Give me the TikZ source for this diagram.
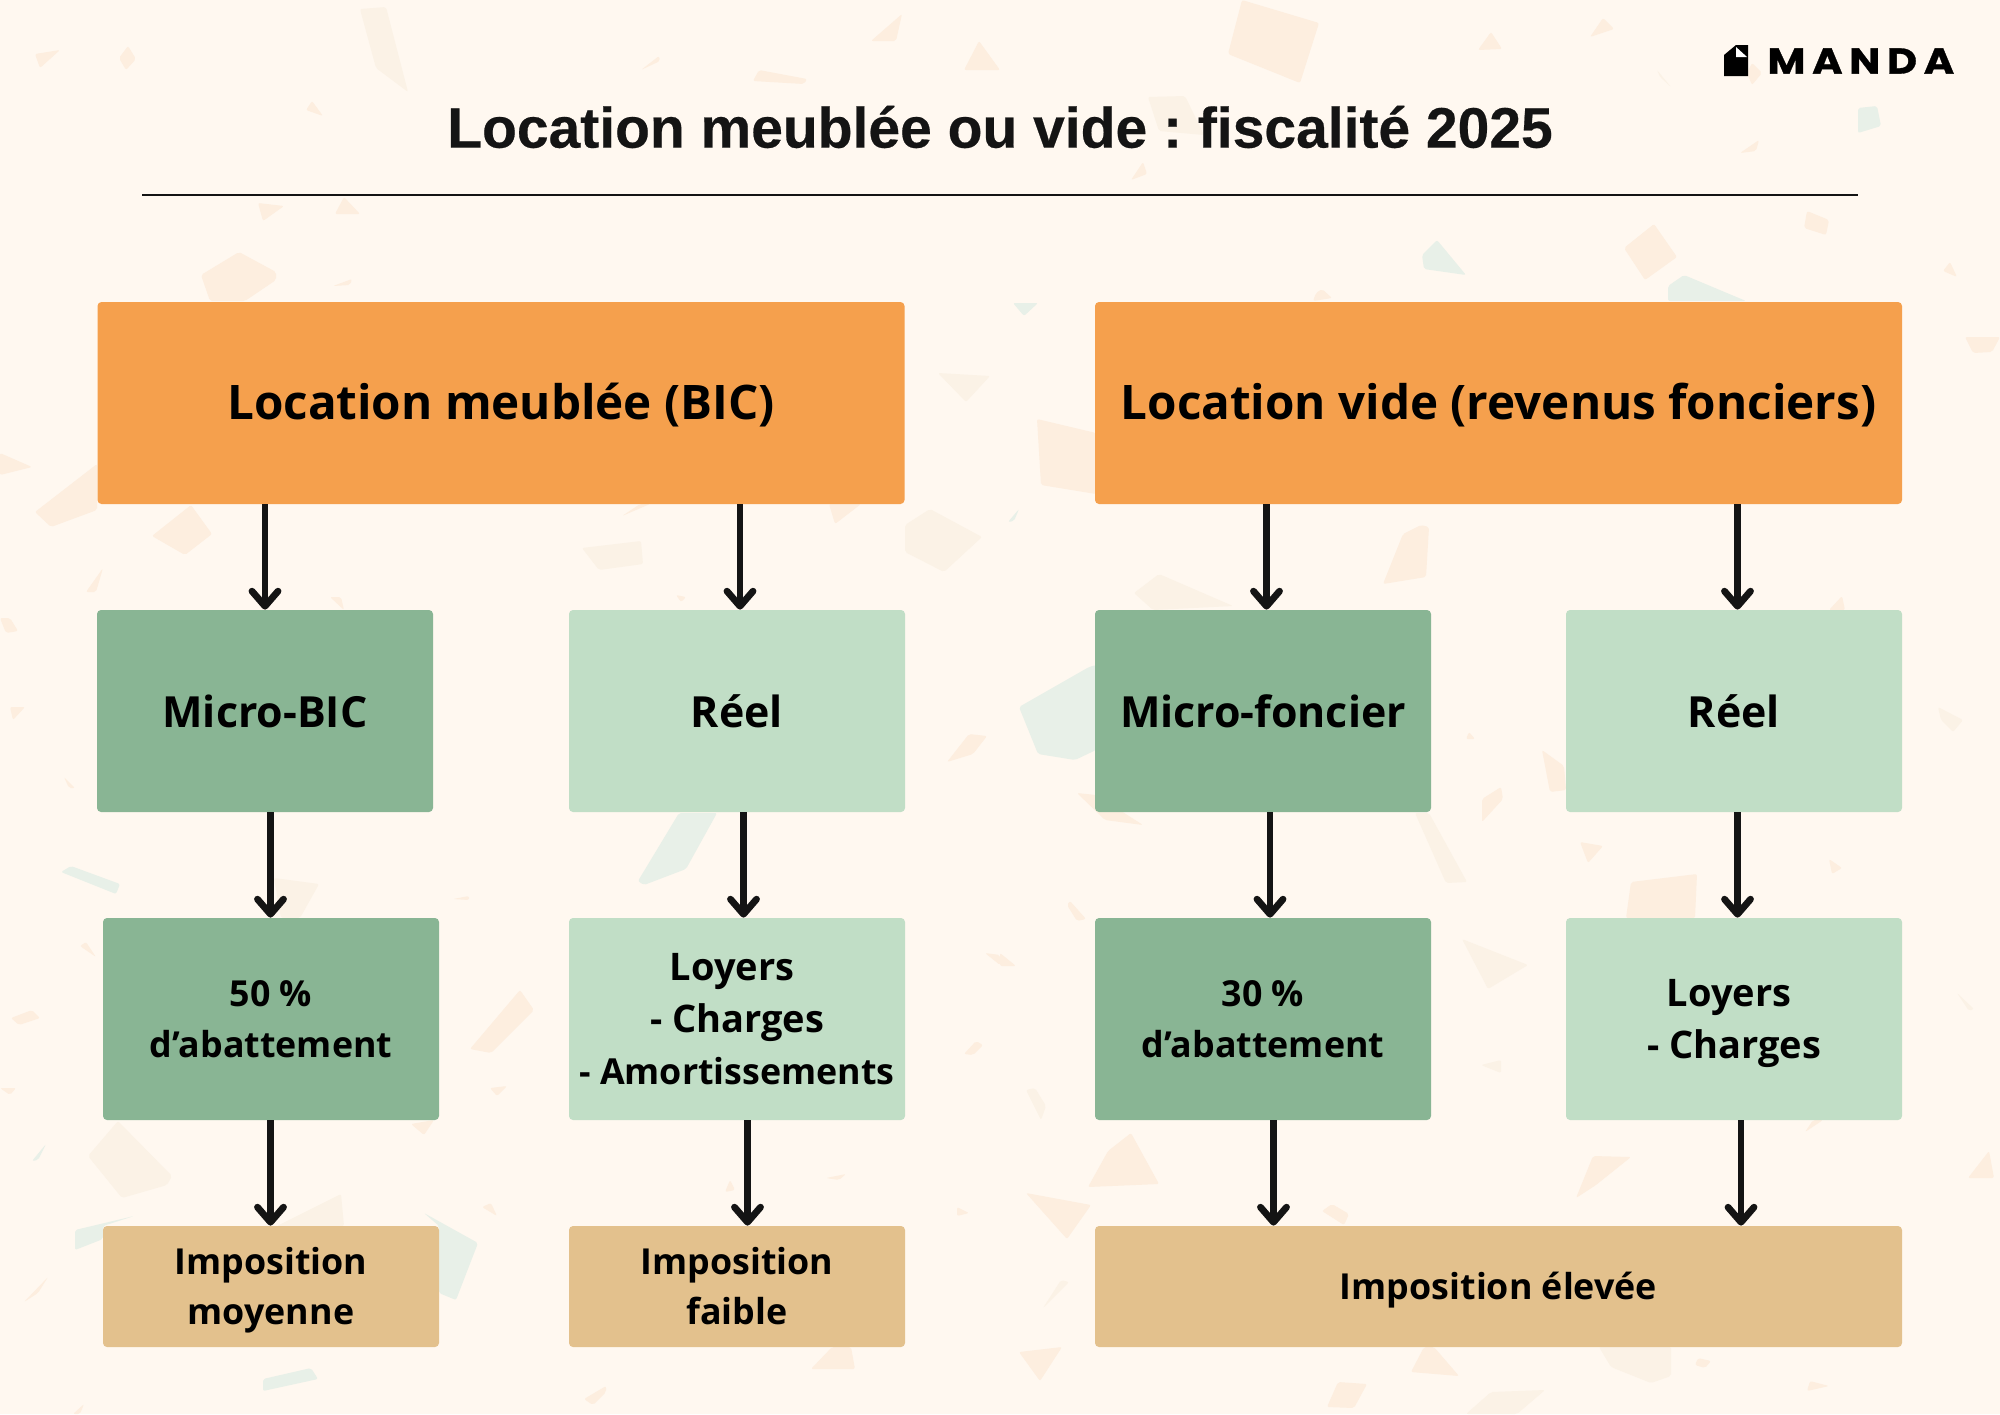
\documentclass[tikz,border=0pt]{standalone}
\usepackage{fontspec}
\setmainfont{Open Sans}
\newfontfamily\titlefont[BoldFeatures={FakeBold=0.4}]{Liberation Sans}
\newfontfamily\logofont[LetterSpace=16,BoldFeatures={FakeBold=0.8}]{Poppins}
\usetikzlibrary{arrows.meta}
\definecolor{fond}{HTML}{FFF8F0}
\definecolor{eclatpeche}{HTML}{FDEEDF}
\definecolor{eclatbeige}{HTML}{FBF2E6}
\definecolor{eclatvert}{HTML}{E8F0E8}
\definecolor{orangebox}{HTML}{F5A04D}
\definecolor{vertfonce}{HTML}{89B594}
\definecolor{vertclair}{HTML}{C1DEC6}
\definecolor{sable}{HTML}{E3C18D}
\definecolor{encre}{HTML}{141414}
\tikzset{
  boite/.style={rectangle, rounded corners=2pt, inner sep=0pt, align=center, text=black, font=\bfseries},
  entete/.style={boite, fill=orangebox, minimum width=403.5pt, minimum height=101pt, text depth=1.8pt, font=\bfseries\fontsize{23.8}{28}\selectfont},
  regime/.style={boite, minimum width=168pt, minimum height=101pt, font=\bfseries\fontsize{21.45}{26}\selectfont},
  calcul/.style={boite, minimum width=168pt, minimum height=101pt, text depth=0pt, font=\bfseries\fontsize{17.9}{25.8}\selectfont},
  loyers/.style={calcul, font=\bfseries\fontsize{19}{25.8}\selectfont},
  impot/.style={boite, fill=sable, minimum height=60.5pt, text depth=0.6pt, font=\bfseries\fontsize{17.9}{25}\selectfont},
  fleche/.style={draw=encre, line width=3.4pt, -{Straight Barb[length=7.5pt,width=13pt,round]}}
}
\begin{document}
\frenchspacing
\begin{tikzpicture}[x=0.5pt, y=-0.5pt]
\useasboundingbox (0,0) rectangle (2000,1414);
\fill[fond] (0,0) rectangle (2000,1414);
% eclats du fond
\fill[eclatpeche, rounded corners=1pt]
  (35,54) -- (60,50) -- (40,68) -- cycle (128,46) -- (136,59) -- (126,70) -- (119,58) -- cycle
  (902,14) -- (896,41) -- (871,41) -- cycle (753,81) -- (759,70) -- (807,79) -- (804,84) -- cycle
  (979,41) -- (1000,70) -- (964,70) -- cycle (659,56) -- (660,61) -- (641,70) -- cycle
  (312,101) -- (323,116) -- (306,110) -- cycle (258,203) -- (284,206) -- (263,221) -- cycle
  (344,197) -- (360,214) -- (335,214) -- cycle (239,252) -- (276,272) -- (276,280) -- (245,301) -- (210,301) -- (201,275) -- cycle
  (333,286) -- (352,279) -- (350,285) -- cycle (0,453) -- (32,467) -- (0,475) -- cycle
  (97,464) -- (35,512) -- (51,527) -- (97,510) -- cycle (191,505) -- (212,534) -- (185,555) -- (152,536) -- cycle
  (103,568) -- (86,592) -- (96,592) -- cycle (330,597) -- (341,597) -- (344,610) -- cycle
  (0,618) -- (10,618) -- (18,631) -- (6,633) -- cycle (829,504) -- (861,504) -- (835,524) -- cycle
  (622,516) -- (650,504) -- (640,504) -- cycle (676,595) -- (686,597) -- (681,602) -- cycle
  (1242,0) -- (1319,23) -- (1300,83) -- (1228,54) -- cycle (1603,18) -- (1614,29) -- (1590,37) -- cycle
  (1491,32) -- (1502,49) -- (1478,50) -- cycle (1747,73) -- (1752,63) -- (1762,73) -- (1752,85) -- cycle
  (1759,140) -- (1740,153) -- (1756,151) -- cycle (1143,162) -- (1131,180) -- (1147,174) -- cycle
  (1807,211) -- (1829,220) -- (1826,235) -- (1804,228) -- cycle (1654,224) -- (1677,257) -- (1645,280) -- (1624,248) -- cycle
  (1322,289) -- (1332,298) -- (1313,301) -- (1316,293) -- cycle (1037,419) -- (1096,433) -- (1096,494) -- (1041,485) -- cycle
  (1965,337) -- (2000,337) -- (1992,352) -- (1973,353) -- cycle (1943,271) -- (1950,262) -- (1957,277) -- cycle
  (1421,525) -- (1429,527) -- (1426,577) -- (1383,584) -- (1403,534) -- cycle (1842,596) -- (1829,610) -- (1845,610) -- cycle
  (10,707) -- (25,707) -- (13,720) -- cycle (64,777) -- (75,788) -- (69,788) -- cycle
  (969,734) -- (987,736) -- (973,754) -- (947,762) -- cycle (453,899) -- (469,896) -- (469,900) -- cycle
  (80,946) -- (86,942) -- (96,957) -- cycle (11,1018) -- (32,1010) -- (40,1018) -- (19,1025) -- cycle
  (520,990) -- (534,1010) -- (491,1053) -- (470,1049) -- cycle (976,1041) -- (983,1045) -- (973,1055) -- (964,1054) -- cycle
  (985,953) -- (1000,955) -- (1000,965) -- cycle (0,1088) -- (16,1088) -- (10,1095) -- cycle
  (490,1088) -- (507,1086) -- (497,1096) -- cycle (411,1124) -- (434,1120) -- (424,1135) -- cycle
  (730,1180) -- (735,1190) -- (725,1192) -- cycle (826,1178) -- (846,1174) -- (839,1180) -- cycle
  (491,1203) -- (497,1216) -- (482,1207) -- cycle (957,1207) -- (969,1213) -- (957,1216) -- cycle
  (48,1277) -- (38,1293) -- (24,1302) -- cycle (851,1347) -- (855,1369) -- (811,1369) -- (832,1347) -- cycle
  (606,1386) -- (584,1399) -- (593,1405) -- (606,1392) -- cycle (84,1404) -- (73,1414) -- (80,1414) -- cycle
  (1077,793) -- (1096,795) -- (1143,825) -- (1105,820) -- cycle (1542,750) -- (1564,766) -- (1566,790) -- (1550,792) -- cycle
  (1501,787) -- (1482,799) -- (1482,822) -- (1503,799) -- cycle (1580,842) -- (1603,846) -- (1588,863) -- cycle
  (1829,859) -- (1842,868) -- (1832,874) -- cycle (1631,882) -- (1697,874) -- (1695,918) -- (1626,918) -- cycle
  (1469,732) -- (1475,739) -- (1466,739) -- cycle (1070,901) -- (1086,919) -- (1077,921) -- (1067,905) -- cycle
  (1000,953) -- (1016,966) -- (1000,966) -- cycle (1813,1120) -- (1823,1120) -- (1805,1132) -- cycle
  (1131,1133) -- (1159,1184) -- (1088,1187) -- (1108,1151) -- cycle (1593,1156) -- (1631,1157) -- (1596,1185) -- (1576,1198) -- cycle
  (1989,1151) -- (1994,1178) -- (1968,1178) -- cycle (1026,1193) -- (1091,1205) -- (1067,1239) -- cycle
  (1332,1204) -- (1349,1214) -- (1344,1225) -- (1322,1211) -- cycle (1019,1352) -- (1062,1347) -- (1040,1381) -- cycle
  (1434,1347) -- (1459,1376) -- (1411,1372) -- (1424,1347) -- cycle (1698,1358) -- (1711,1361) -- (1705,1368) -- (1695,1365) -- cycle
  (1810,1381) -- (1829,1386) -- (1807,1391) -- cycle (1338,1382) -- (1367,1384) -- (1354,1408) -- (1327,1407) -- cycle;
\fill[eclatbeige, rounded corners=1pt]
  (360,9) -- (386,7) -- (408,92) -- (376,68) -- cycle (938,373) -- (990,376) -- (966,402) -- cycle
  (905,525) -- (930,509) -- (982,537) -- (944,572) -- (905,552) -- cycle (582,548) -- (641,541) -- (643,564) -- (599,570) -- cycle
  (1148,97) -- (1185,96) -- (1204,135) -- (1159,131) -- cycle (1159,574) -- (1233,606) -- (1153,610) -- (1134,593) -- cycle
  (1657,70) -- (1671,87) -- (1660,77) -- cycle (274,878) -- (319,884) -- (300,918) -- (281,918) -- cycle
  (118,1121) -- (172,1176) -- (167,1185) -- (122,1198) -- (88,1156) -- cycle (341,1194) -- (344,1226) -- (277,1226) -- cycle
  (1415,813) -- (1429,813) -- (1467,882) -- (1446,883) -- cycle (1462,939) -- (1528,965) -- (1488,989) -- cycle
  (1481,1065) -- (1501,1060) -- (1501,1073) -- cycle (1026,1090) -- (1035,1088) -- (1046,1106) -- (1041,1120) -- cycle
  (1938,707) -- (1963,720) -- (1953,732) -- (1941,720) -- cycle (1957,993) -- (1974,1009) -- (1969,1011) -- cycle
  (1061,1280) -- (1069,1282) -- (1043,1308) -- cycle (1599,1347) -- (1671,1347) -- (1671,1376) -- (1651,1383) -- (1611,1367) -- cycle
  (1466,1414) -- (1491,1392) -- (1545,1390) -- (1517,1414) -- cycle;
\fill[eclatvert, rounded corners=1pt]
  (1858,108) -- (1877,106) -- (1881,126) -- (1858,133) -- cycle (1437,240) -- (1466,275) -- (1424,269) -- (1422,255) -- cycle
  (1684,275) -- (1746,301) -- (1668,301) -- (1668,286) -- cycle (1013,303) -- (1038,303) -- (1024,316) -- cycle
  (1008,522) -- (1019,509) -- (1014,521) -- cycle (1089,667) -- (1096,665) -- (1096,750) -- (1075,760) -- (1038,754) -- (1019,707) -- cycle
  (638,881) -- (679,813) -- (717,813) -- (686,869) -- (644,885) -- cycle (61,872) -- (71,866) -- (120,884) -- (116,894) -- cycle
  (46,1144) -- (32,1161) -- (38,1160) -- cycle (134,1216) -- (75,1230) -- (75,1250) -- (103,1239) -- (103,1226) -- cycle
  (424,1213) -- (478,1243) -- (456,1300) -- (439,1293) -- (439,1226) -- cycle (263,1379) -- (311,1368) -- (318,1379) -- (263,1391) -- cycle;
% titre et logo
\node[font=\titlefont\bfseries\fontsize{28.5}{32}\selectfont, text=encre, inner sep=0pt] (titre) at (1000,127) {Location meublée ou vide : fiscalité 2025};
\coordinate (filetg) at (142,195);
\coordinate (filetd) at (1858,195);
\draw[line width=1pt, draw=encre] (filetg) -- (filetd);
\fill[black] (1724,76) -- (1724,55) -- (1736,45) -- (1748,45) -- (1748,76) -- cycle;
\fill[white] (1736,47) -- (1747,57) -- (1736,57) -- cycle;
\node[font=\logofont\bfseries\fontsize{18}{20}\selectfont, text=black, inner sep=0pt, anchor=west, xscale=1.15, transform shape] (logo) at (1767,61) {MANDA};
% colonnes
\node[entete] (meuble) at (501,403) {Location meublée (BIC)};
\node[entete] (vide) at (1498.5,403) {Location vide (revenus fonciers)};
\node[regime, fill=vertfonce] (microbic) at (265,711) {Micro-BIC};
\node[regime, fill=vertclair] (reelbic) at (737,711) {Réel};
\node[regime, fill=vertfonce] (microfon) at (1263,711) {Micro-foncier};
\node[regime, fill=vertclair] (reelfon) at (1734,711) {Réel};
\node[calcul, fill=vertfonce] (cinquante) at (271,1019) {50 \%\\d’abattement};
\node[loyers, fill=vertclair] (loyersbic) at (737,1019) {Loyers\hspace*{0.26em}\\- Charges\\\fontsize{17.9}{25.8}\selectfont - Amortissements};
\node[calcul, fill=vertfonce] (trente) at (1263,1019) {30 \%\\d’abattement};
\node[loyers, fill=vertclair] (loyersfon) at (1734,1019) {Loyers\hspace*{0.26em}\\- Charges};
\node[impot, minimum width=168pt] (moyenne) at (271,1286.5) {Imposition\\moyenne};
\node[impot, minimum width=168pt] (faible) at (737,1286.5) {Imposition\\faible};
\node[impot, minimum width=403.5pt] (elevee) at (1498.5,1286.5) {Imposition élevée};
% fleches
\foreach \de/\vers/\posx in {meuble/microbic/265, meuble/reelbic/740, vide/microfon/1266.5, vide/reelfon/1737.5,
    microbic/cinquante/270.5, reelbic/loyersbic/743.5, microfon/trente/1270, reelfon/loyersfon/1737.5,
    cinquante/moyenne/270.5, loyersbic/faible/747.5, trente/elevee/1273.5, loyersfon/elevee/1741}{
  \coordinate (axe) at (\posx,0);
  \draw[fleche] (\de.south -| axe) -- (axe |- \vers.north);
}
\end{tikzpicture}
\end{document}
